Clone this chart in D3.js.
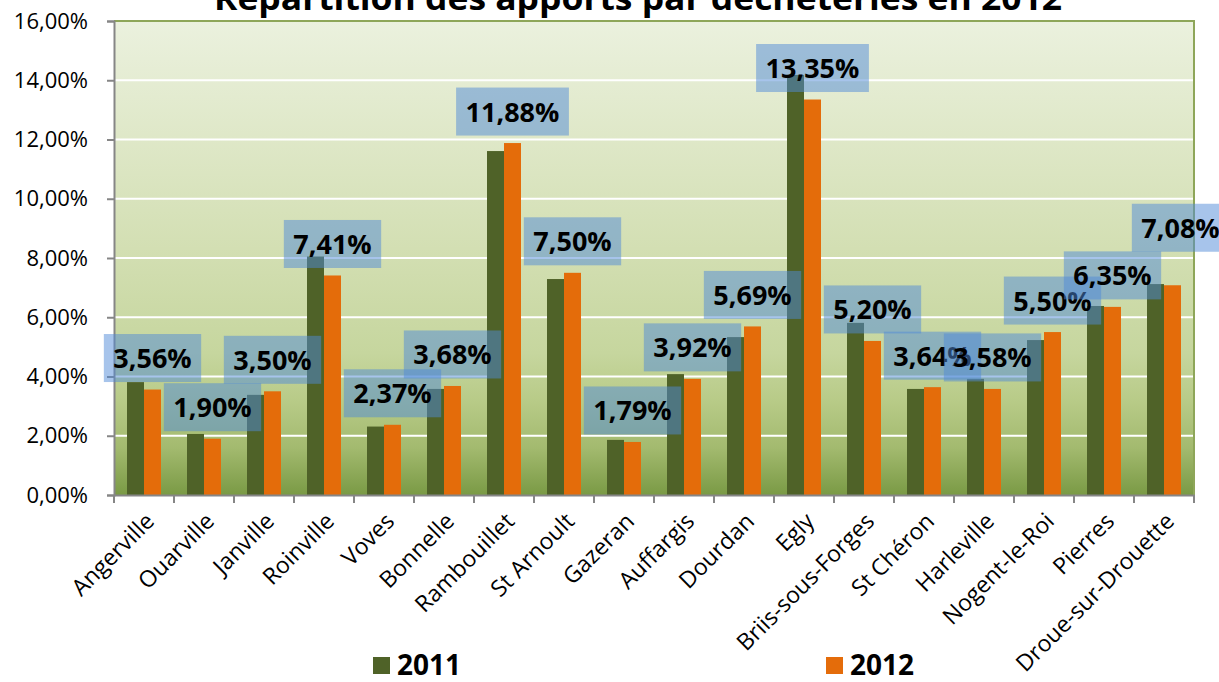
<!DOCTYPE html>
<html>
<head>
<meta charset="utf-8">
<script src="https://cdn.jsdelivr.net/npm/d3@7"></script>
<style>
	body { margin: 0; background: #fff; }
	svg { display: block; }
</style>
</head>
<body>
<div id="chart-area"></div>
<script>

// Chart data
let categories = ["Angerville", "Ouarville", "Janville", "Roinville", "Voves", "Bonnelle",
	"Rambouillet", "St Arnoult", "Gazeran", "Auffargis", "Dourdan", "Egly",
	"Briis-sous-Forges", "St Chéron", "Harleville", "Nogent-le-Roi", "Pierres", "Droue-sur-Drouette"];

let years = ["2011", "2012"];

let values2011 = [3.81, 2.06, 3.38, 8.05, 2.31, 3.58, 11.61, 7.29, 1.86, 4.08, 5.33, 14.18,
	5.81, 3.58, 3.92, 5.23, 6.38, 7.12];

let values2012 = [3.56, 1.90, 3.50, 7.41, 2.37, 3.68, 11.88, 7.50, 1.79, 3.92, 5.69, 13.35,
	5.20, 3.64, 3.58, 5.50, 6.35, 7.08];

let yTicks = [0, 2, 4, 6, 8, 10, 12, 14, 16];

let title = "Répartition des apports par déchèteries en 2012";

// Colours
let colors = {"2011": "#4f6228", "2012": "#e46c0a"};

// Label that was moved by hand in the original
let labelNudge = {"Droue-sur-Drouette": [8, -26]};

let width = 1219,
	height = 682;

let plot = {left: 114, right: 1194, top: 21, bottom: 495};

let fmt = v => v.toFixed(2).replace(".", ",") + "%";

let svg = d3.select("#chart-area")
	.append("svg")
	.attr("width", width)
	.attr("height", height)
	.style("font-family", "'Open Sans', sans-serif");

// Scales
let x0 = d3.scaleBand()
	.domain(categories)
	.range([plot.left, plot.right])
	.padding(0);

let x1 = d3.scaleBand()
	.domain(years)
	.range([0, x0.bandwidth()])
	.paddingInner(0)
	.paddingOuter(0.765);

let y = d3.scaleLinear()
	.domain([0, 16])
	.range([plot.bottom, plot.top]);

// Background gradient of plot area
let grad = svg.append("defs").append("linearGradient")
	.attr("id", "bg-grad")
	.attr("x1", 0).attr("y1", 0)
	.attr("x2", 0).attr("y2", 1);

[[0, "#ebf1de"], [0.48, "#d3dfb3"], [0.7, "#c6d69e"], [0.8, "#b8cb88"], [0.9, "#a3ba6f"], [1, "#7a9a45"]]
	.forEach(s => grad.append("stop").attr("offset", s[0]).attr("stop-color", s[1]));

svg.append("rect")
	.attr("x", plot.left)
	.attr("y", plot.top)
	.attr("width", plot.right - plot.left)
	.attr("height", plot.bottom - plot.top)
	.attr("fill", "url(#bg-grad)");

// Grid lines
svg.append("g")
	.selectAll("line")
	.data(yTicks.filter(d => d > 0 && d < 16))
	.enter()
	.append("line")
	.attr("x1", plot.left)
	.attr("x2", plot.right)
	.attr("y1", d => y(d))
	.attr("y2", d => y(d))
	.attr("stroke", "#fff")
	.attr("stroke-width", 2);

// Top and right border
svg.append("path")
	.attr("d", "M" + plot.left + "," + y(16) + "H" + plot.right + "V" + plot.bottom)
	.attr("fill", "none")
	.attr("stroke", "#8ea659")
	.attr("stroke-width", 2);

// Bars
let series = years.map(yr => ({year: yr, values: yr === "2011" ? values2011 : values2012}));

let groups = svg.append("g")
	.selectAll("g")
	.data(categories)
	.enter()
	.append("g")
	.attr("transform", d => "translate(" + x0(d) + ",0)");

groups.selectAll("rect")
	.data((d, i) => series.map(s => ({year: s.year, value: s.values[i]})))
	.enter()
	.append("rect")
	.attr("x", d => x1(d.year))
	.attr("y", d => y(d.value))
	.attr("width", x1.bandwidth())
	.attr("height", d => y(0) - y(d.value))
	.attr("fill", d => colors[d.year]);

// Y axis
let yAxis = d3.axisLeft(y)
	.tickValues(yTicks)
	.tickFormat(fmt)
	.tickSize(7)
	.tickPadding(19);

let yAxisGroup = svg.append("g")
	.attr("class", "axis y-axis")
	.attr("transform", "translate(" + plot.left + ",0)")
	.call(yAxis);

yAxisGroup.select(".domain").attr("stroke", "#868686").attr("stroke-width", 2);
yAxisGroup.selectAll(".tick line").attr("stroke", "#868686").attr("stroke-width", 2);
yAxisGroup.selectAll("text")
	.attr("font-size", "22px")
	.attr("font-family", "'Open Sans', sans-serif")
	.attr("fill", "#000");

// X axis
let xAxis = d3.axisBottom(x0)
	.tickSize(0)
	.tickSizeOuter(0);

let xAxisGroup = svg.append("g")
	.attr("class", "axis x-axis")
	.attr("transform", "translate(0," + plot.bottom + ")")
	.call(xAxis);

xAxisGroup.select(".domain").attr("stroke", "#868686").attr("stroke-width", 2);

xAxisGroup.selectAll("text")
	.attr("font-size", "23px")
	.attr("font-family", "'Open Sans', sans-serif")
	.attr("fill", "#000")
	.attr("x", 0)
	.attr("y", 0)
	.attr("dy", "0.35em")
	.style("text-anchor", "end")
	.attr("transform", "translate(6,22) rotate(-45)");

// Category boundary ticks
xAxisGroup.append("g")
	.selectAll("line")
	.data(categories.concat([null]))
	.enter()
	.append("line")
	.attr("x1", d => d === null ? plot.right : x0(d))
	.attr("x2", d => d === null ? plot.right : x0(d))
	.attr("y1", 0)
	.attr("y2", 8)
	.attr("stroke", "#868686")
	.attr("stroke-width", 2);

// Data labels for 2012
let labelGroup = svg.append("g");

categories.forEach((c, i) => {
	let v = values2012[i];
	let nudge = labelNudge[c] || [0, 0];
	let cx = x0(c) + x1("2012") + x1.bandwidth() / 2 + nudge[0];
	let boxBottom = y(v) - 7.5 + nudge[1];
	let boxH = 48;

	let g = labelGroup.append("g");
	let rect = g.append("rect");
	let txt = g.append("text")
		.attr("x", cx)
		.attr("y", boxBottom - boxH / 2 + 10)
		.attr("text-anchor", "middle")
		.attr("font-size", "27px")
		.attr("font-weight", "bold")
		.attr("fill", "#000")
		.text(fmt(v));

	let w = txt.node().getComputedTextLength() + 19;
	rect.attr("x", cx - w / 2)
		.attr("y", boxBottom - boxH)
		.attr("width", w)
		.attr("height", boxH)
		.attr("fill", "rgba(79,137,215,0.5)");
});

// Title, cut at the top edge
svg.append("text")
	.attr("x", 638)
	.attr("y", 10)
	.attr("text-anchor", "middle")
	.attr("font-size", "32px")
	.attr("font-weight", "bold")
	.attr("textLength", 848)
	.attr("lengthAdjust", "spacingAndGlyphs")
	.text(title);

// Legend
let legendPos = [373, 826];

let legend = svg.append("g")
	.selectAll("g")
	.data(years)
	.enter()
	.append("g")
	.attr("transform", (d, i) => "translate(" + legendPos[i] + ",657)");

legend.append("rect")
	.attr("width", 17)
	.attr("height", 17)
	.attr("fill", d => colors[d]);

legend.append("text")
	.attr("x", 24)
	.attr("y", 18)
	.attr("font-size", "28px")
	.attr("font-weight", "bold")
	.text(d => d);

</script>
</body>
</html>
